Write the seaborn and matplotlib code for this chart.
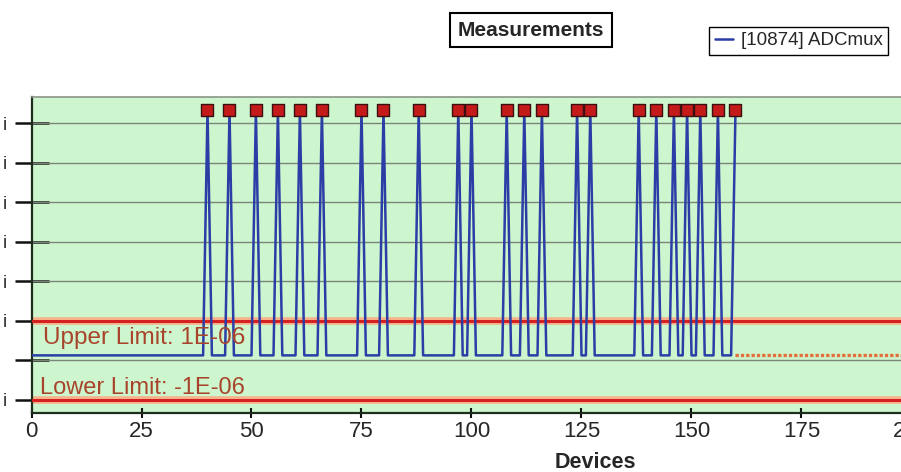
import matplotlib
matplotlib.use('Agg')
import matplotlib.pyplot as plt
import pandas as pd
import seaborn as sns

# values
peak_devices = [40, 45, 51, 56, 61, 66, 75, 80, 88, 97, 100, 108, 112, 116,
                124, 127, 138, 142, 146, 149, 152, 156, 160]
base_level = 0.12e-6
peak_level = 6.34e-6
last_device = 160
tail_devices = [160, 200]
upper_limit = 1e-6
lower_limit = -1e-6
y_ticks = [-1e-6, 0, 1e-6, 2e-6, 3e-6, 4e-6, 5e-6, 6e-6]
y_ticklabels = ['i', '', 'i', 'i', 'i', 'i', 'i', 'i']
x_ticks = [0, 25, 50, 75, 100, 125, 150, 175, 200]
series_name = '[10874] ADCmux'

df = pd.DataFrame({'device': range(0, last_device + 1)})
df['value'] = [peak_level if d in peak_devices else base_level
               for d in df['device']]
peaks = pd.DataFrame({'device': peak_devices,
                      'value': [peak_level] * len(peak_devices)})
tail = pd.DataFrame({'device': tail_devices,
                     'value': [base_level] * len(tail_devices)})

sns.set_style('white')
plt.rcParams['font.family'] = ['Liberation Sans', 'DejaVu Sans']

fig = plt.figure(figsize=(9.01, 4.72), dpi=100)
ax = fig.add_axes([31.5 / 901, 59 / 472, 880 / 901, 316 / 472])
ax.set_facecolor('#cef6ce')

for y in y_ticks:
    ax.axhline(y, color='#7a857a', lw=1, zorder=1)

for lim in (upper_limit, lower_limit):
    ax.axhline(lim, color='#f6b48c', lw=5.5, zorder=2)
    ax.axhline(lim, color='#d42222', lw=2.2, zorder=3)

sns.lineplot(data=df, x='device', y='value', ax=ax, color='#2b3ea6',
             lw=1.8, zorder=4, label=series_name, legend=False)
sns.lineplot(data=tail, x='device', y='value', ax=ax, color='#e0703c',
             lw=2.4, ls=(0, (1, 0.6)), zorder=4, legend=False)
sns.scatterplot(data=peaks, x='device', y='value', ax=ax, marker='s',
                s=70, color='#c41a1a', edgecolor='#3a1010', linewidth=1,
                zorder=5, legend=False)

ax.text(2.6, 0.42e-6, 'Upper Limit: 1E-06', color='#a8442c', fontsize=17.5,
        va='baseline', ha='left', zorder=6)
ax.text(1.9, -0.85e-6, 'Lower Limit: -1E-06', color='#a8442c', fontsize=17,
        va='baseline', ha='left', zorder=6)

ax.set_xlim(0, 200)
ax.set_ylim(-1.34e-6, 6.667e-6)
ax.set_xticks(x_ticks)
ax.set_xticklabels([str(t) for t in x_ticks])
ax.set_yticks(y_ticks)
ax.set_yticklabels(y_ticklabels)
ax.tick_params(axis='x', bottom=True, direction='inout', length=7.2,
               width=1.5, labelsize=16, pad=2.5, color='#111111')
ax.tick_params(axis='y', left=True, direction='inout', length=25, width=1.8,
               labelsize=13, pad=5.4, color='#111111')
ax.set_xlabel('')
ax.set_ylabel('')

for side in ('left', 'bottom'):
    ax.spines[side].set_color('#1e2e1e')
    ax.spines[side].set_linewidth(1.6)
for side in ('top', 'right'):
    ax.spines[side].set_color('#8a948a')
    ax.spines[side].set_linewidth(1.2)

fig.text(595 / 901, 1 - 463 / 472, 'Devices', fontsize=15.5,
         fontweight='bold', ha='center', va='center')
fig.text(531 / 901, 1 - 30 / 472, 'Measurements', fontsize=15,
         fontweight='bold', ha='center', va='center',
         bbox=dict(boxstyle='square,pad=0.35', fc='white', ec='black', lw=1.5))

handles, labels = ax.get_legend_handles_labels()
fig.legend(handles, labels, loc='upper left',
           bbox_to_anchor=(709 / 901, 1 - 26.7 / 472), fontsize=13.5,
           frameon=True, fancybox=False, edgecolor='black', framealpha=1,
           handlelength=1.0, handletextpad=0.4, borderpad=0.3,
           borderaxespad=0)

fig.savefig('out.png', dpi=100)
